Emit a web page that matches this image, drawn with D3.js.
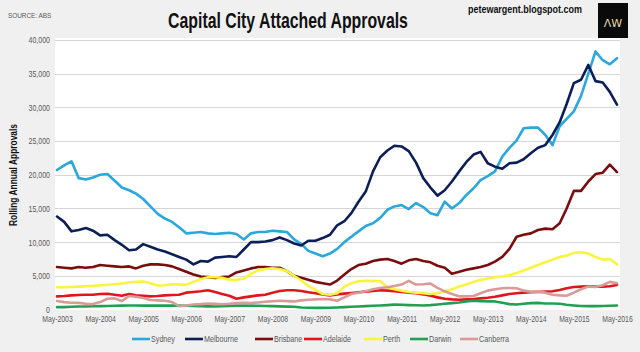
<!DOCTYPE html>
<html>
<head>
<meta charset="utf-8">
<script src="https://cdn.jsdelivr.net/npm/d3@7"></script>
<style>
  html, body { margin: 0; padding: 0; background: #f0f0f0; }
  svg { display: block; }
</style>
</head>
<body>
<div id="chart"></div>
<script>
// month offsets from May-2003, every 2 months
const monthOffsets = d3.range(0, 157, 2);

const sydney = [20700, 21400, 22000, 19500, 19300, 19600, 20000, 20100, 19100, 18100,
  17700, 17200, 16400, 15300, 14200, 13500, 13000, 12200, 11300, 11400,
  11500, 11300, 11200, 11300, 11400, 11200, 10400, 11300, 11500, 11500,
  11700, 11600, 11500, 10400, 9700, 8700, 8300, 7900, 8300, 9000,
  10000, 10800, 11600, 12400, 12800, 13600, 14800, 15300, 15500, 14900,
  15800, 15200, 14300, 14000, 16000, 15000, 15800, 17000, 18000, 19200,
  19800, 20500, 22700, 24000, 25100, 26900, 27000, 27000, 25900, 24400,
  27200, 28300, 29400, 31700, 35000, 38300, 37000, 36400, 37300];

const melbourne = [13800, 13000, 11600, 11800, 12100, 11700, 11000, 11100, 10300, 9600,
  8800, 8900, 9700, 9300, 8900, 8600, 8200, 7800, 7400, 6700,
  7200, 7100, 7700, 7800, 7900, 7800, 8900, 10000, 10000, 10100,
  10300, 10700, 10300, 9800, 9500, 10200, 10200, 10600, 11100, 12500,
  13100, 14300, 16000, 17500, 20500, 22600, 23600, 24300, 24200, 23500,
  21800, 19500, 18100, 16900, 17700, 19000, 20500, 21900, 23000, 23400,
  21700, 21200, 20900, 21700, 21800, 22300, 23200, 24000, 24400, 25900,
  27800, 30500, 33600, 34100, 36300, 33900, 33700, 32300, 30400];

const brisbane = [6300, 6200, 6100, 6300, 6200, 6300, 6600, 6500, 6400, 6300,
  6400, 6100, 6500, 6700, 6700, 6600, 6400, 6000, 5600, 5200,
  4900, 4800, 4700, 4800, 4900, 5500, 5800, 6100, 6300, 6300,
  6200, 6200, 5700, 5000, 4700, 4400, 4100, 3900, 3700, 4300,
  5200, 6000, 6600, 6800, 7200, 7400, 7500, 7200, 6800, 7300,
  7500, 7200, 7000, 6500, 6200, 5300, 5600, 5900, 6100, 6300,
  6600, 7100, 7800, 9000, 10800, 11100, 11300, 11800, 12000, 11900,
  12800, 15000, 17600, 17600, 19000, 20100, 20300, 21500, 20400];

const adelaide = [1950, 2000, 2100, 2150, 2200, 2200, 2300, 2340, 2200, 2050,
  2300, 2100, 2050, 1950, 2000, 2100, 2150, 2200, 2500, 2600,
  2700, 2850, 2600, 2300, 2050, 1600, 1800, 1950, 2100, 2200,
  2500, 2750, 2850, 2850, 2750, 2550, 2400, 2250, 2100, 2250,
  2350, 2450, 2550, 2650, 2750, 2850, 2800, 2700, 2600, 2500,
  2400, 2250, 2050, 1800, 1600, 1500, 1450, 1500, 1550, 1650,
  1750, 1900, 2100, 2300, 2400, 2500, 2550, 2600, 2650, 2700,
  2900, 3150, 3350, 3400, 3450, 3400, 3400, 3450, 3650];

const perth = [3300, 3300, 3350, 3400, 3450, 3500, 3600, 3650, 3750, 3850,
  4000, 4100, 4150, 3900, 3550, 3600, 3750, 3700, 3650, 4100,
  4500, 4800, 4800, 4700, 4400, 4400, 4600, 5300, 5800, 6000,
  6100, 6000, 5700, 5000, 4300, 3500, 2900, 2300, 2200, 2400,
  3400, 3900, 4200, 4250, 4250, 4200, 3300, 3000, 2800, 2600,
  2500, 2400, 2300, 2400, 2700, 3000, 3400, 3700, 4100, 4400,
  4600, 4800, 4900, 5100, 5400, 5800, 6200, 6600, 7000, 7400,
  7800, 8000, 8400, 8500, 8300, 7800, 7400, 7500, 6700];

const darwin = [350, 350, 400, 450, 450, 480, 500, 520, 550, 580,
  600, 600, 580, 580, 570, 580, 600, 580, 550, 520,
  500, 470, 450, 480, 520, 580, 600, 580, 550, 520,
  500, 470, 430, 400, 300, 250, 240, 240, 250, 300,
  350, 400, 450, 500, 550, 600, 650, 720, 700, 650,
  620, 600, 650, 750, 850, 950, 1050, 1200, 1300, 1250,
  1200, 1200, 1000, 800, 750, 850, 950, 980, 900, 880,
  850, 700, 600, 520, 500, 500, 520, 550, 600];

const canberra = [1250, 1100, 1000, 980, 850, 800, 1100, 1600, 1650, 1250,
  2000, 1900, 1700, 1400, 1350, 1300, 1100, 500, 600, 750,
  800, 880, 850, 780, 850, 950, 980, 950, 1050, 1150,
  1220, 1300, 1250, 1200, 1350, 1450, 1500, 1550, 1500, 1300,
  1800, 2300, 2500, 2700, 3000, 3200, 3300, 3500, 3700, 4250,
  3700, 3750, 3850, 3200, 2700, 2300, 1950, 1950, 2000, 2400,
  2800, 3000, 3150, 3200, 3150, 2800, 2650, 2650, 2500, 2200,
  2100, 2050, 2500, 3000, 3400, 3350, 3600, 4100, 3900];

const seriesNames = ["Sydney", "Melbourne", "Brisbane", "Adelaide", "Perth", "Darwin", "Canberra"];
const seriesColors = ["#2aa8dc", "#0c1e58", "#7a0d0d", "#e0161c", "#fbf33c", "#22a052", "#d99a98"];
const yTicks = [0, 5000, 10000, 15000, 20000, 25000, 30000, 35000, 40000];
const xTickYears = d3.range(2003, 2017);

const width = 640, height = 352;
const font = "'Liberation Sans', Arial, sans-serif";

const svg = d3.select("#chart").append("svg")
  .attr("width", width)
  .attr("height", height)
  .style("background", "#f0f0f0");

const start = new Date(2003, 4, 1);
const dateOf = m => d3.timeMonth.offset(start, m);

const x = d3.scaleTime()
  .domain([start, dateOf(156)])
  .range([57, 617]);

const y = d3.scaleLinear()
  .domain([0, 40000])
  .range([309.5, 40]);

// plot area
svg.append("rect")
  .attr("x", 55).attr("y", 38)
  .attr("width", 565).attr("height", 272)
  .attr("fill", "#ffffff");

// gridlines
svg.append("g")
  .selectAll("line")
  .data(yTicks.filter(d => d > 0))
  .join("line")
  .attr("x1", 55).attr("x2", 620)
  .attr("y1", d => Math.round(y(d)) + 0.5)
  .attr("y2", d => Math.round(y(d)) + 0.5)
  .attr("stroke", "#d6d6d6")
  .attr("stroke-width", 1);

// y axis labels (squeezed to look like a narrow face)
const yAxis = svg.append("g")
  .attr("transform", "translate(50,0)")
  .call(d3.axisLeft(y).tickValues(yTicks).tickSize(0).tickFormat(d3.format(",")));
yAxis.select(".domain").remove();
yAxis.selectAll("text")
  .attr("x", 0)
  .attr("transform", "scale(0.78,1)")
  .style("font-family", font)
  .style("font-size", "9px")
  .attr("fill", "#595959");

// x axis labels
const xAxis = svg.append("g")
  .attr("transform", "translate(0,314)")
  .call(d3.axisBottom(x)
    .tickValues(xTickYears.map(yr => new Date(yr, 4, 1)))
    .tickSize(0)
    .tickFormat(d3.timeFormat("%b-%Y")));
xAxis.select(".domain").remove();
xAxis.selectAll("text")
  .attr("y", 2)
  .attr("transform", "scale(0.76,1)")
  .style("font-family", font)
  .style("font-size", "9px")
  .attr("fill", "#595959");

// lines
const allSeries = [sydney, melbourne, brisbane, adelaide, perth, darwin, canberra];
const line = d3.line()
  .x((d, i) => x(dateOf(monthOffsets[i])))
  .y(d => y(d));

svg.append("g")
  .selectAll("path")
  .data(allSeries)
  .join("path")
  .attr("fill", "none")
  .attr("stroke", (d, i) => seriesColors[i])
  .attr("stroke-width", 2.6)
  .attr("stroke-linejoin", "round")
  .attr("stroke-linecap", "round")
  .attr("d", line);

// title, source, blog name
svg.append("text")
  .attr("transform", "translate(288,28) scale(0.72,1)")
  .attr("text-anchor", "middle")
  .style("font-family", font)
  .style("font-size", "22px")
  .style("font-weight", "bold")
  .attr("fill", "#111")
  .text("Capital City Attached Approvals");

svg.append("text")
  .attr("transform", "translate(8,18) scale(0.8,1)")
  .style("font-family", font)
  .style("font-size", "8px")
  .attr("fill", "#595959")
  .text("SOURCE: ABS");

svg.append("text")
  .attr("transform", "translate(468,13) scale(0.78,1)")
  .style("font-family", font)
  .style("font-size", "11.5px")
  .style("font-weight", "bold")
  .attr("fill", "#111")
  .text("petewargent.blogspot.com");

// logo
svg.append("rect")
  .attr("x", 598).attr("y", 3)
  .attr("width", 30).attr("height", 35)
  .attr("fill", "#0a0a0a");
svg.append("text")
  .attr("x", 613).attr("y", 27)
  .attr("text-anchor", "middle")
  .style("font-family", "'DejaVu Sans', sans-serif")
  .style("font-size", "11px")
  .attr("fill", "#e8dcb0")
  .text("ΛW");

// y axis title
svg.append("text")
  .attr("transform", "translate(17,175) rotate(-90) scale(0.8,1)")
  .attr("text-anchor", "middle")
  .style("font-family", font)
  .style("font-size", "10.5px")
  .style("font-weight", "bold")
  .attr("fill", "#111")
  .text("Rolling Annual Approvals");

// legend
const legendX = [132, 185, 255, 304, 364, 410, 460];
const legend = svg.append("g")
  .selectAll("g")
  .data(seriesNames)
  .join("g")
  .attr("transform", (d, i) => `translate(${legendX[i]},339)`);
legend.append("line")
  .attr("x1", 0).attr("x2", 18)
  .attr("stroke", (d, i) => seriesColors[i])
  .attr("stroke-width", 2.6);
legend.append("text")
  .attr("transform", "translate(19,3) scale(0.8,1)")
  .style("font-family", font)
  .style("font-size", "9px")
  .attr("fill", "#595959")
  .text(d => d);
</script>
</body>
</html>
